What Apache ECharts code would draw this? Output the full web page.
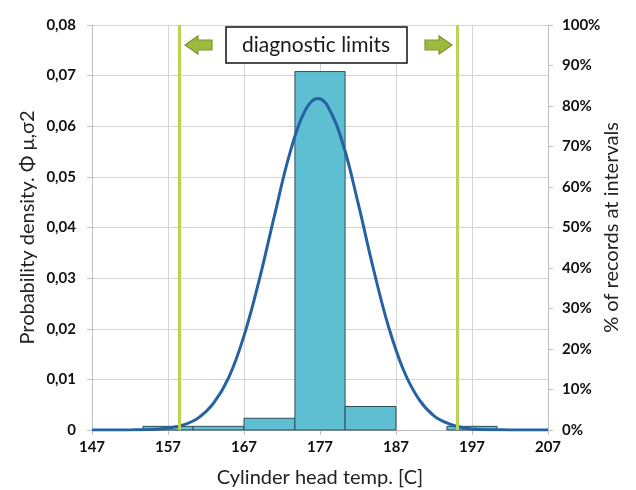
<!DOCTYPE html>
<html>
<head>
<meta charset="utf-8">
<script src="https://cdn.jsdelivr.net/npm/echarts@6/dist/echarts.min.js"></script>
<style>
  html, body { margin: 0; padding: 0; background: #fff; }
  #chart { width: 636px; height: 490px; }
</style>
</head>
<body>
<div id="chart"></div>
<script>
// histogram bins (temperature ranges) and share of records, %
const binLeft = [153.7, 160.3, 167, 173.7, 180.3, 193.7];
const binRight = [160.3, 167, 173.7, 180.3, 187, 200.3];
const binPct = [0.9, 0.9, 2.9, 88.5, 5.8, 0.9];

// fitted density curve
const curveX = [147, 152, 155, 157, 159, 161, 163, 165, 167, 169, 171, 173, 175, 176.7,
  178, 180, 182, 184, 186, 188, 190, 192, 194, 196, 198, 202, 207];
const curveY = [0, 0.00002, 0.0001, 0.0004, 0.001, 0.0024, 0.0053, 0.0104, 0.0186, 0.0296,
  0.0423, 0.0545, 0.063, 0.0655, 0.064, 0.0566, 0.0449, 0.032, 0.0205, 0.0118, 0.0061,
  0.0028, 0.0012, 0.0004, 0.0001, 0.00002, 0];

// diagnostic limits
const limits = [158.5, 195.0];

const font = 'Lato, "Open Sans", sans-serif';
const gridColor = '#d4d4d4';

const chart = echarts.init(document.getElementById('chart'), null, { renderer: 'canvas' });

const arrowColor = '#9cba3e';
const arrowBorder = '#7d9530';

chart.setOption({
  animation: false,
  grid: { left: 92, right: 88, top: 25, bottom: 60, outerBoundsMode: 'none', containLabel: false },
  xAxis: {
    type: 'value',
    min: 147,
    max: 207,
    interval: 10,
    name: 'Cylinder head temp. [C]',
    nameLocation: 'middle',
    nameGap: 38,
    nameMoveOverlap: false,
    nameTextStyle: { fontFamily: font, fontSize: 20, color: '#222' },
    axisLine: { lineStyle: { color: '#bfbfbf' } },
    axisTick: { show: true, length: 5, lineStyle: { color: '#bfbfbf' } },
    axisLabel: { fontFamily: font, fontSize: 15, fontWeight: 'bold', color: '#111', margin: 10 },
    splitLine: { show: true, lineStyle: { color: gridColor } }
  },
  yAxis: [
    {
      type: 'value',
      min: 0,
      max: 0.08,
      interval: 0.01,
      name: 'Probability density. Φ μ,σ2',
      nameLocation: 'middle',
      nameGap: 54,
      nameMoveOverlap: false,
      nameTextStyle: { fontFamily: font, fontSize: 20, color: '#222' },
      axisLine: { show: true, lineStyle: { color: '#bfbfbf' } },
      axisTick: { show: true, length: 5, lineStyle: { color: '#bfbfbf' } },
      axisLabel: {
        fontFamily: font, fontSize: 15, fontWeight: 'bold', color: '#111', margin: 16,
        formatter: (v) => (v === 0 ? '0' : v.toFixed(2).replace('.', ','))
      },
      splitLine: { show: true, lineStyle: { color: gridColor } }
    },
    {
      type: 'value',
      min: 0,
      max: 100,
      interval: 10,
      position: 'right',
      name: '% of records at intervals',
      nameLocation: 'middle',
      nameGap: 54,
      nameRotate: 90,
      nameMoveOverlap: false,
      nameTextStyle: { fontFamily: font, fontSize: 20, color: '#222' },
      axisLine: { show: true, lineStyle: { color: '#bfbfbf' } },
      axisTick: { show: true, length: 5, lineStyle: { color: '#bfbfbf' } },
      axisLabel: { fontFamily: font, fontSize: 15, fontWeight: 'bold', color: '#111', margin: 14, formatter: '{value}%' },
      splitLine: { show: false }
    }
  ],
  series: [
    {
      name: 'Records',
      type: 'custom',
      yAxisIndex: 1,
      data: binPct.map((p, i) => [binLeft[i], binRight[i], p]),
      encode: { x: [0, 1], y: 2 },
      renderItem: (params, api) => {
        const p0 = api.coord([api.value(0), api.value(2)]);
        const p1 = api.coord([api.value(1), 0]);
        return {
          type: 'rect',
          shape: { x: p0[0], y: p0[1], width: p1[0] - p0[0], height: p1[1] - p0[1] },
          style: { fill: '#5ebfd2', stroke: '#2f4f58', lineWidth: 1 }
        };
      },
      z: 2
    },
    {
      name: 'Density',
      type: 'line',
      yAxisIndex: 0,
      data: curveX.map((x, i) => [x, curveY[i]]),
      smooth: 0.4,
      symbol: 'none',
      lineStyle: { color: '#2662a3', width: 3 },
      z: 4,
      markLine: {
        silent: true,
        symbol: 'none',
        label: { show: false },
        lineStyle: { color: '#bdd152', width: 3, type: 'solid' },
        data: limits.map((v) => ({ xAxis: v }))
      }
    }
  ],
  graphic: [
    {
      type: 'rect',
      shape: { x: 226, y: 27, width: 181, height: 36 },
      style: { fill: '#fff', stroke: '#111', lineWidth: 1.5 },
      z: 10
    },
    {
      type: 'text',
      x: 316,
      y: 45,
      style: {
        text: 'diagnostic limits', fontFamily: font, fontSize: 21, fill: '#1a1a1a',
        align: 'center', verticalAlign: 'middle'
      },
      z: 11
    },
    {
      type: 'polygon',
      shape: { points: [[185, 45], [198, 36], [198, 40], [212, 40], [212, 50], [198, 50], [198, 54]] },
      style: { fill: arrowColor, stroke: arrowBorder, lineWidth: 1.2 },
      z: 10
    },
    {
      type: 'polygon',
      shape: { points: [[452, 45], [439, 36], [439, 40], [425, 40], [425, 50], [439, 50], [439, 54]] },
      style: { fill: arrowColor, stroke: arrowBorder, lineWidth: 1.2 },
      z: 10
    }
  ]
});
</script>
</body>
</html>
